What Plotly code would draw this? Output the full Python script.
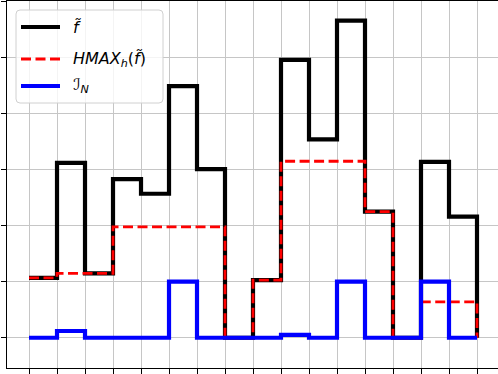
import plotly.graph_objects as go

# data
x_pos = list(range(17))
f_tilde = [1.07, 3.12, 1.15, 2.83, 2.57, 4.49, 3.01, 0.0, 1.03, 4.96, 3.54, 5.66, 2.25, 0.0, 3.14, 2.16, 0.0]
hmax = [1.07, 1.15, 1.15, 1.98, 1.98, 1.98, 1.98, 0.0, 1.03, 3.15, 3.15, 3.15, 2.25, 0.0, 0.64, 0.64, 0.0]
ind_n = [0.0, 0.12, 0.0, 0.0, 0.0, 1.0, 0.0, 0.0, 0.0, 0.05, 0.0, 1.0, 0.0, 0.0, 1.0, 0.0, 0.0]
x_ticks = list(range(17))
y_ticks = list(range(7))

W, H = 498, 374
ML, MR, MT, MB = 7, 0, 1, 6
PW, PH = W - ML - MR, H - MT - MB

def px(xp):
    return (xp - ML) / PW

def py(yp):
    return (H - MB - yp) / PH

fig = go.Figure()
fig.add_trace(go.Scatter(x=x_pos, y=f_tilde, mode="lines", line=dict(shape="hv", color="black", width=4.2),
                         showlegend=False))
fig.add_trace(go.Scatter(x=x_pos, y=hmax, mode="lines",
                         line=dict(shape="hv", color="red", width=2.8, dash="10px,4.5px"), showlegend=False))
fig.add_trace(go.Scatter(x=x_pos, y=ind_n, mode="lines", line=dict(shape="hv", color="blue", width=4.2),
                         showlegend=False))

# manual legend (matplotlib-style)
x0, x1, y0, y1 = px(16), px(163), py(103), py(10)
rx, ry = 4 / PW, 4 / PH
path = (f"M {x0+rx},{y1} L {x1-rx},{y1} Q {x1},{y1} {x1},{y1-ry} L {x1},{y0+ry} Q {x1},{y0} {x1-rx},{y0} "
        f"L {x0+rx},{y0} Q {x0},{y0} {x0},{y0+ry} L {x0},{y1-ry} Q {x0},{y1} {x0+rx},{y1} Z")
shapes = [dict(type="path", xref="paper", yref="paper", path=path,
               fillcolor="rgba(255,255,255,0.8)", line=dict(color="#d0d0d0", width=1))]
entries = [
    ("<i>f\u0303</i>", dict(color="black", width=4.2), 27),
    ("<i>HMAX</i><sub><i>h</i></sub>(<i>f\u0303</i>)", dict(color="red", width=2.8, dash="10px,4.5px"), 59),
    ("\u2110<sub><i>N</i></sub>", dict(color="blue", width=4.2), 86),
]
annotations = []
for txt, ln, yy in entries:
    shapes.append(dict(type="line", xref="paper", yref="paper", x0=px(21), x1=px(60), y0=py(yy), y1=py(yy), line=ln))
    annotations.append(dict(xref="paper", yref="paper", x=px(71), y=py(yy), xanchor="left", yanchor="middle",
                            text=txt, showarrow=False, font=dict(family="DejaVu Sans", size=16, color="black")))

fig.update_layout(
    width=W, height=H, margin=dict(l=ML, r=MR, t=MT, b=MB),
    paper_bgcolor="white", plot_bgcolor="white",
    shapes=shapes, annotations=annotations, showlegend=False,
)
fig.update_xaxes(range=[-0.786, 16.75], tickvals=x_ticks, showticklabels=False, ticks="outside", ticklen=5,
                 tickwidth=1.1, tickcolor="black", showgrid=True, gridcolor="#c6c6c6", gridwidth=1.2,
                 showline=True, linecolor="black", linewidth=1.1, mirror=True, zeroline=False)
fig.update_yaxes(range=[-0.54, 6.01], tickvals=y_ticks, showticklabels=False, ticks="outside", ticklen=5,
                 tickwidth=1.1, tickcolor="black", showgrid=True, gridcolor="#c6c6c6", gridwidth=1.2,
                 showline=True, linecolor="black", linewidth=1.1, mirror=False, zeroline=False)

fig.write_html("out.html")
